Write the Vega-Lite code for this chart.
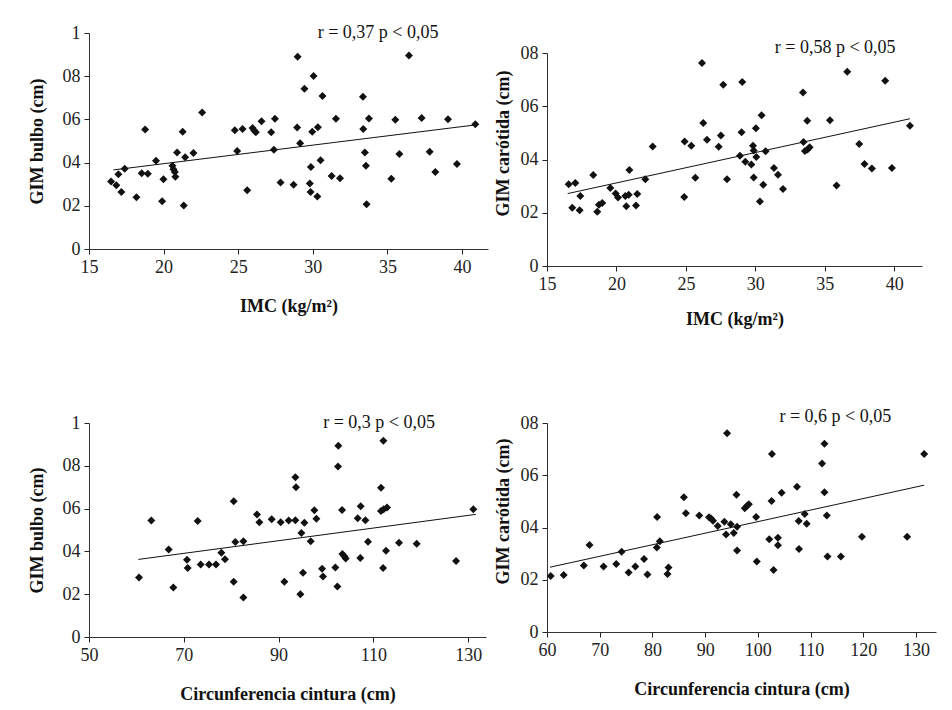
{
  "$schema": "https://vega.github.io/schema/vega-lite/v6.json",
  "autosize": {"type": "none"},
  "padding": {"left": 89, "top": 33, "right": 863, "bottom": 677},
  "background": "white",
  "columns": 2,
  "spacing": {"row": 157, "column": 59},
  "bounds": "flush",
  "datasets": {
    "p1": [
      {"imc": 16.48, "gim": 0.312}, {"imc": 16.83, "gim": 0.295}, {"imc": 16.97, "gim": 0.346}, {"imc": 17.17, "gim": 0.264},
      {"imc": 17.39, "gim": 0.372}, {"imc": 18.18, "gim": 0.240}, {"imc": 18.53, "gim": 0.351}, {"imc": 18.76, "gim": 0.553},
      {"imc": 18.94, "gim": 0.348}, {"imc": 19.49, "gim": 0.408}, {"imc": 19.90, "gim": 0.221}, {"imc": 19.99, "gim": 0.323},
      {"imc": 20.59, "gim": 0.385}, {"imc": 20.66, "gim": 0.369}, {"imc": 20.75, "gim": 0.357}, {"imc": 20.79, "gim": 0.335},
      {"imc": 20.90, "gim": 0.447}, {"imc": 21.28, "gim": 0.543}, {"imc": 21.35, "gim": 0.201}, {"imc": 21.44, "gim": 0.425},
      {"imc": 22.00, "gim": 0.444}, {"imc": 22.58, "gim": 0.632}, {"imc": 24.77, "gim": 0.550}, {"imc": 24.93, "gim": 0.454},
      {"imc": 25.29, "gim": 0.556}, {"imc": 25.60, "gim": 0.272}, {"imc": 25.96, "gim": 0.560}, {"imc": 26.07, "gim": 0.549},
      {"imc": 26.18, "gim": 0.541}, {"imc": 26.56, "gim": 0.592}, {"imc": 27.21, "gim": 0.541}, {"imc": 27.39, "gim": 0.459},
      {"imc": 27.46, "gim": 0.603}, {"imc": 27.84, "gim": 0.308}, {"imc": 28.71, "gim": 0.298}, {"imc": 28.95, "gim": 0.563},
      {"imc": 28.98, "gim": 0.890}, {"imc": 29.15, "gim": 0.490}, {"imc": 29.44, "gim": 0.742}, {"imc": 29.80, "gim": 0.303},
      {"imc": 29.85, "gim": 0.264}, {"imc": 29.87, "gim": 0.380}, {"imc": 29.96, "gim": 0.543}, {"imc": 30.05, "gim": 0.801},
      {"imc": 30.30, "gim": 0.243}, {"imc": 30.34, "gim": 0.564}, {"imc": 30.52, "gim": 0.411}, {"imc": 30.65, "gim": 0.708},
      {"imc": 31.26, "gim": 0.338}, {"imc": 31.55, "gim": 0.603}, {"imc": 31.82, "gim": 0.328}, {"imc": 33.36, "gim": 0.705},
      {"imc": 33.38, "gim": 0.555}, {"imc": 33.49, "gim": 0.447}, {"imc": 33.56, "gim": 0.385}, {"imc": 33.60, "gim": 0.207},
      {"imc": 33.76, "gim": 0.604}, {"imc": 35.26, "gim": 0.325}, {"imc": 35.53, "gim": 0.598}, {"imc": 35.80, "gim": 0.440},
      {"imc": 36.44, "gim": 0.896}, {"imc": 37.29, "gim": 0.607}, {"imc": 37.83, "gim": 0.450}, {"imc": 38.21, "gim": 0.357},
      {"imc": 39.06, "gim": 0.601}, {"imc": 39.66, "gim": 0.393}, {"imc": 40.89, "gim": 0.577}
    ],
    "p1fit": [{"imc": 16.63, "gim": 0.366}, {"imc": 40.96, "gim": 0.575}],
    "p2": [
      {"imc": 16.56, "gim": 0.307}, {"imc": 16.82, "gim": 0.219}, {"imc": 17.04, "gim": 0.312}, {"imc": 17.35, "gim": 0.209},
      {"imc": 17.40, "gim": 0.263}, {"imc": 18.33, "gim": 0.342}, {"imc": 18.62, "gim": 0.204}, {"imc": 18.74, "gim": 0.230},
      {"imc": 18.98, "gim": 0.237}, {"imc": 19.56, "gim": 0.293}, {"imc": 19.94, "gim": 0.272}, {"imc": 20.11, "gim": 0.257},
      {"imc": 20.64, "gim": 0.263}, {"imc": 20.71, "gim": 0.224}, {"imc": 20.88, "gim": 0.268}, {"imc": 20.93, "gim": 0.361},
      {"imc": 21.41, "gim": 0.227}, {"imc": 21.50, "gim": 0.270}, {"imc": 22.08, "gim": 0.326}, {"imc": 22.61, "gim": 0.449},
      {"imc": 24.88, "gim": 0.259}, {"imc": 24.91, "gim": 0.468}, {"imc": 25.39, "gim": 0.452}, {"imc": 25.68, "gim": 0.331},
      {"imc": 26.16, "gim": 0.762}, {"imc": 26.25, "gim": 0.537}, {"imc": 26.52, "gim": 0.474}, {"imc": 27.36, "gim": 0.448},
      {"imc": 27.52, "gim": 0.490}, {"imc": 27.69, "gim": 0.681}, {"imc": 27.96, "gim": 0.326}, {"imc": 28.89, "gim": 0.414},
      {"imc": 29.01, "gim": 0.502}, {"imc": 29.06, "gim": 0.691}, {"imc": 29.28, "gim": 0.392}, {"imc": 29.71, "gim": 0.381},
      {"imc": 29.83, "gim": 0.452}, {"imc": 29.88, "gim": 0.434}, {"imc": 29.88, "gim": 0.332}, {"imc": 30.04, "gim": 0.517},
      {"imc": 30.07, "gim": 0.409}, {"imc": 30.33, "gim": 0.242}, {"imc": 30.45, "gim": 0.566}, {"imc": 30.57, "gim": 0.305},
      {"imc": 30.74, "gim": 0.431}, {"imc": 31.34, "gim": 0.368}, {"imc": 31.63, "gim": 0.343}, {"imc": 31.99, "gim": 0.289},
      {"imc": 33.43, "gim": 0.652}, {"imc": 33.47, "gim": 0.466}, {"imc": 33.57, "gim": 0.432}, {"imc": 33.74, "gim": 0.546},
      {"imc": 33.76, "gim": 0.438}, {"imc": 33.91, "gim": 0.446}, {"imc": 35.37, "gim": 0.547}, {"imc": 35.85, "gim": 0.302},
      {"imc": 36.62, "gim": 0.730}, {"imc": 37.48, "gim": 0.458}, {"imc": 37.86, "gim": 0.383}, {"imc": 38.39, "gim": 0.366},
      {"imc": 39.35, "gim": 0.696}, {"imc": 39.83, "gim": 0.368}, {"imc": 41.13, "gim": 0.527}
    ],
    "p2fit": [{"imc": 16.49, "gim": 0.272}, {"imc": 41.13, "gim": 0.553}],
    "p3": [
      {"cc": 60.55, "gim": 0.278}, {"cc": 63.15, "gim": 0.544}, {"cc": 66.81, "gim": 0.409}, {"cc": 67.79, "gim": 0.231},
      {"cc": 70.68, "gim": 0.361}, {"cc": 70.82, "gim": 0.322}, {"cc": 72.93, "gim": 0.542}, {"cc": 73.56, "gim": 0.339},
      {"cc": 75.32, "gim": 0.339}, {"cc": 76.79, "gim": 0.339}, {"cc": 77.92, "gim": 0.394}, {"cc": 78.69, "gim": 0.363},
      {"cc": 80.52, "gim": 0.634}, {"cc": 80.52, "gim": 0.258}, {"cc": 80.87, "gim": 0.444}, {"cc": 82.56, "gim": 0.184},
      {"cc": 82.56, "gim": 0.448}, {"cc": 85.44, "gim": 0.573}, {"cc": 85.94, "gim": 0.536}, {"cc": 88.54, "gim": 0.550},
      {"cc": 90.44, "gim": 0.536}, {"cc": 91.21, "gim": 0.258}, {"cc": 92.13, "gim": 0.544}, {"cc": 93.53, "gim": 0.747},
      {"cc": 93.67, "gim": 0.700}, {"cc": 93.53, "gim": 0.545}, {"cc": 94.59, "gim": 0.200}, {"cc": 94.80, "gim": 0.486},
      {"cc": 95.15, "gim": 0.300}, {"cc": 95.43, "gim": 0.534}, {"cc": 96.77, "gim": 0.447}, {"cc": 97.54, "gim": 0.592},
      {"cc": 97.96, "gim": 0.552}, {"cc": 99.16, "gim": 0.319}, {"cc": 99.37, "gim": 0.283}, {"cc": 101.97, "gim": 0.325},
      {"cc": 102.39, "gim": 0.236}, {"cc": 102.53, "gim": 0.797}, {"cc": 102.60, "gim": 0.894}, {"cc": 103.38, "gim": 0.594},
      {"cc": 103.45, "gim": 0.388}, {"cc": 103.87, "gim": 0.377}, {"cc": 104.15, "gim": 0.367}, {"cc": 106.68, "gim": 0.555},
      {"cc": 107.24, "gim": 0.369}, {"cc": 107.31, "gim": 0.611}, {"cc": 108.30, "gim": 0.545}, {"cc": 108.86, "gim": 0.445},
      {"cc": 111.60, "gim": 0.698}, {"cc": 111.60, "gim": 0.589}, {"cc": 112.03, "gim": 0.322}, {"cc": 112.10, "gim": 0.917},
      {"cc": 112.17, "gim": 0.597}, {"cc": 112.66, "gim": 0.403}, {"cc": 112.87, "gim": 0.605}, {"cc": 115.40, "gim": 0.441},
      {"cc": 119.13, "gim": 0.436}, {"cc": 127.43, "gim": 0.355}, {"cc": 131.08, "gim": 0.597}
    ],
    "p3fit": [{"cc": 60.41, "gim": 0.3625}, {"cc": 131.6, "gim": 0.573}],
    "p4": [
      {"cc": 60.70, "gim": 0.214}, {"cc": 63.17, "gim": 0.218}, {"cc": 66.98, "gim": 0.255}, {"cc": 68.06, "gim": 0.333},
      {"cc": 70.73, "gim": 0.251}, {"cc": 73.14, "gim": 0.260}, {"cc": 74.16, "gim": 0.307}, {"cc": 75.49, "gim": 0.228},
      {"cc": 76.76, "gim": 0.251}, {"cc": 78.41, "gim": 0.279}, {"cc": 79.05, "gim": 0.220}, {"cc": 80.83, "gim": 0.323},
      {"cc": 80.89, "gim": 0.440}, {"cc": 81.40, "gim": 0.347}, {"cc": 82.86, "gim": 0.222}, {"cc": 83.05, "gim": 0.247},
      {"cc": 85.97, "gim": 0.516}, {"cc": 86.35, "gim": 0.455}, {"cc": 88.89, "gim": 0.446}, {"cc": 90.73, "gim": 0.439},
      {"cc": 91.11, "gim": 0.434}, {"cc": 91.49, "gim": 0.426}, {"cc": 92.38, "gim": 0.406}, {"cc": 93.65, "gim": 0.422},
      {"cc": 93.97, "gim": 0.373}, {"cc": 94.16, "gim": 0.761}, {"cc": 94.86, "gim": 0.412}, {"cc": 95.43, "gim": 0.379},
      {"cc": 95.94, "gim": 0.525}, {"cc": 96.06, "gim": 0.312}, {"cc": 96.06, "gim": 0.403}, {"cc": 97.52, "gim": 0.474},
      {"cc": 97.97, "gim": 0.483}, {"cc": 98.29, "gim": 0.489}, {"cc": 99.68, "gim": 0.440}, {"cc": 99.81, "gim": 0.270},
      {"cc": 102.16, "gim": 0.355}, {"cc": 102.60, "gim": 0.501}, {"cc": 102.67, "gim": 0.681}, {"cc": 102.98, "gim": 0.237},
      {"cc": 103.81, "gim": 0.361}, {"cc": 103.81, "gim": 0.332}, {"cc": 104.51, "gim": 0.533}, {"cc": 107.43, "gim": 0.556},
      {"cc": 107.75, "gim": 0.425}, {"cc": 107.81, "gim": 0.318}, {"cc": 108.89, "gim": 0.452}, {"cc": 109.27, "gim": 0.414},
      {"cc": 112.19, "gim": 0.645}, {"cc": 112.63, "gim": 0.721}, {"cc": 112.63, "gim": 0.535}, {"cc": 113.08, "gim": 0.446},
      {"cc": 113.21, "gim": 0.289}, {"cc": 115.75, "gim": 0.289}, {"cc": 119.75, "gim": 0.365}, {"cc": 128.32, "gim": 0.365},
      {"cc": 131.56, "gim": 0.681}
    ],
    "p4fit": [{"cc": 60.57, "gim": 0.248}, {"cc": 131.56, "gim": 0.562}]
  },
  "concat": [
    {
      "width": 399,
      "height": 216,
      "layer": [
        {"data": {"name": "p1"}, "mark": {"type": "point", "shape": "diamond", "filled": true, "color": "#111", "size": 64, "opacity": 1},
         "encoding": {
          "x": {"field": "imc", "type": "quantitative", "title": "IMC (kg/m²)",
                "scale": {"domain": [15, 41.74], "nice": false, "zero": false},
                "axis": {"values": [15, 20, 25, 30, 35, 40]}},
          "y": {"field": "gim", "type": "quantitative", "title": "GIM bulbo (cm)",
                "scale": {"domain": [0, 1], "nice": false},
                "axis": {"values": [0, 0.2, 0.4, 0.6, 0.8, 1]}}}},
        {"data": {"name": "p1fit"}, "mark": {"type": "line", "color": "#111", "strokeWidth": 1},
         "encoding": {"x": {"field": "imc", "type": "quantitative"}, "y": {"field": "gim", "type": "quantitative"}}},
        {"data": {"values": [{"label": "r = 0,37 p < 0,05"}]},
         "mark": {"type": "text", "font": "Liberation Serif", "fontSize": 18, "fill": "#111", "align": "center", "baseline": "middle"},
         "encoding": {"x": {"datum": 34.37}, "y": {"datum": 1}, "text": {"field": "label"}}}
      ]
    },
    {
      "width": 375,
      "height": 233,
      "layer": [
        {"data": {"name": "p2"}, "mark": {"type": "point", "shape": "diamond", "filled": true, "color": "#111", "size": 64, "opacity": 1},
         "encoding": {
          "x": {"field": "imc", "type": "quantitative", "title": "IMC (kg/m²)",
                "scale": {"domain": [15, 42], "nice": false, "zero": false},
                "axis": {"values": [15, 20, 25, 30, 35, 40], "titlePadding": 17}},
          "y": {"field": "gim", "type": "quantitative", "title": "GIM carótida (cm)",
                "scale": {"domain": [0, 0.8], "nice": false, "range": [233, 20]},
                "axis": {"values": [0, 0.2, 0.4, 0.6, 0.8], "titlePadding": 8, "titleY": 110}}}},
        {"data": {"name": "p2fit"}, "mark": {"type": "line", "color": "#111", "strokeWidth": 1},
         "encoding": {"x": {"field": "imc", "type": "quantitative"}, "y": {"field": "gim", "type": "quantitative"}}},
        {"data": {"values": [{"label": "r = 0,58 p < 0,05"}]},
         "mark": {"type": "text", "font": "Liberation Serif", "fontSize": 18, "fill": "#111", "align": "center", "baseline": "middle"},
         "encoding": {"x": {"datum": 35.75}, "y": {"datum": 0.818}, "text": {"field": "label"}}}
      ]
    },
    {
      "width": 397,
      "height": 214,
      "layer": [
        {"data": {"name": "p3"}, "mark": {"type": "point", "shape": "diamond", "filled": true, "color": "#111", "size": 64, "opacity": 1},
         "encoding": {
          "x": {"field": "cc", "type": "quantitative", "title": "Circunferencia cintura (cm)",
                "scale": {"domain": [50, 133.75], "nice": false, "zero": false},
                "axis": {"values": [50, 70, 90, 110, 130]}},
          "y": {"field": "gim", "type": "quantitative", "title": "GIM bulbo (cm)",
                "scale": {"domain": [0, 1], "nice": false},
                "axis": {"values": [0, 0.2, 0.4, 0.6, 0.8, 1]}}}},
        {"data": {"name": "p3fit"}, "mark": {"type": "line", "color": "#111", "strokeWidth": 1},
         "encoding": {"x": {"field": "cc", "type": "quantitative"}, "y": {"field": "gim", "type": "quantitative"}}},
        {"data": {"values": [{"label": "r = 0,3 p < 0,05"}]},
         "mark": {"type": "text", "font": "Liberation Serif", "fontSize": 18, "fill": "#111", "align": "center", "baseline": "middle"},
         "encoding": {"x": {"datum": 111.2}, "y": {"datum": 1}, "text": {"field": "label"}}}
      ]
    },
    {
      "width": 389,
      "height": 209,
      "layer": [
        {"data": {"name": "p4"}, "mark": {"type": "point", "shape": "diamond", "filled": true, "color": "#111", "size": 64, "opacity": 1},
         "encoding": {
          "x": {"field": "cc", "type": "quantitative", "title": "Circunferencia cintura (cm)",
                "scale": {"domain": [60, 133.8], "nice": false, "zero": false},
                "axis": {"values": [60, 70, 80, 90, 100, 110, 120, 130]}},
          "y": {"field": "gim", "type": "quantitative", "title": "GIM carótida (cm)",
                "scale": {"domain": [0, 0.8], "nice": false},
                "axis": {"values": [0, 0.2, 0.4, 0.6, 0.8], "titlePadding": 8, "titleY": 88}}}},
        {"data": {"name": "p4fit"}, "mark": {"type": "line", "color": "#111", "strokeWidth": 1},
         "encoding": {"x": {"field": "cc", "type": "quantitative"}, "y": {"field": "gim", "type": "quantitative"}}},
        {"data": {"values": [{"label": "r = 0,6 p < 0,05"}]},
         "mark": {"type": "text", "font": "Liberation Serif", "fontSize": 18, "fill": "#111", "align": "center", "baseline": "middle"},
         "encoding": {"x": {"datum": 114.7}, "y": {"datum": 0.822}, "text": {"field": "label"}}}
      ]
    }
  ],
  "config": {
    "font": "Liberation Serif",
    "view": {"stroke": null},
    "axis": {
      "grid": false,
      "domainColor": "#333",
      "domainWidth": 1,
      "tickColor": "#222",
      "tickSize": 5,
      "tickWidth": 1,
      "labelFont": "Liberation Serif",
      "labelFontSize": 18,
      "labelColor": "#222",
      "labelPadding": 4,
      "labelFlush": false,
      "labelOverlap": false,
      "titleFont": "Liberation Serif",
      "titleFontSize": 18,
      "titleFontWeight": "bold",
      "titleColor": "#111"
    },
    "axisX": {"titlePadding": 21},
    "axisY": {"titlePadding": 16, "labelExpr": "datum.value == 0 ? '0' : (datum.value >= 1 ? '1' : '0' + round(datum.value * 10))"}
  }
}
